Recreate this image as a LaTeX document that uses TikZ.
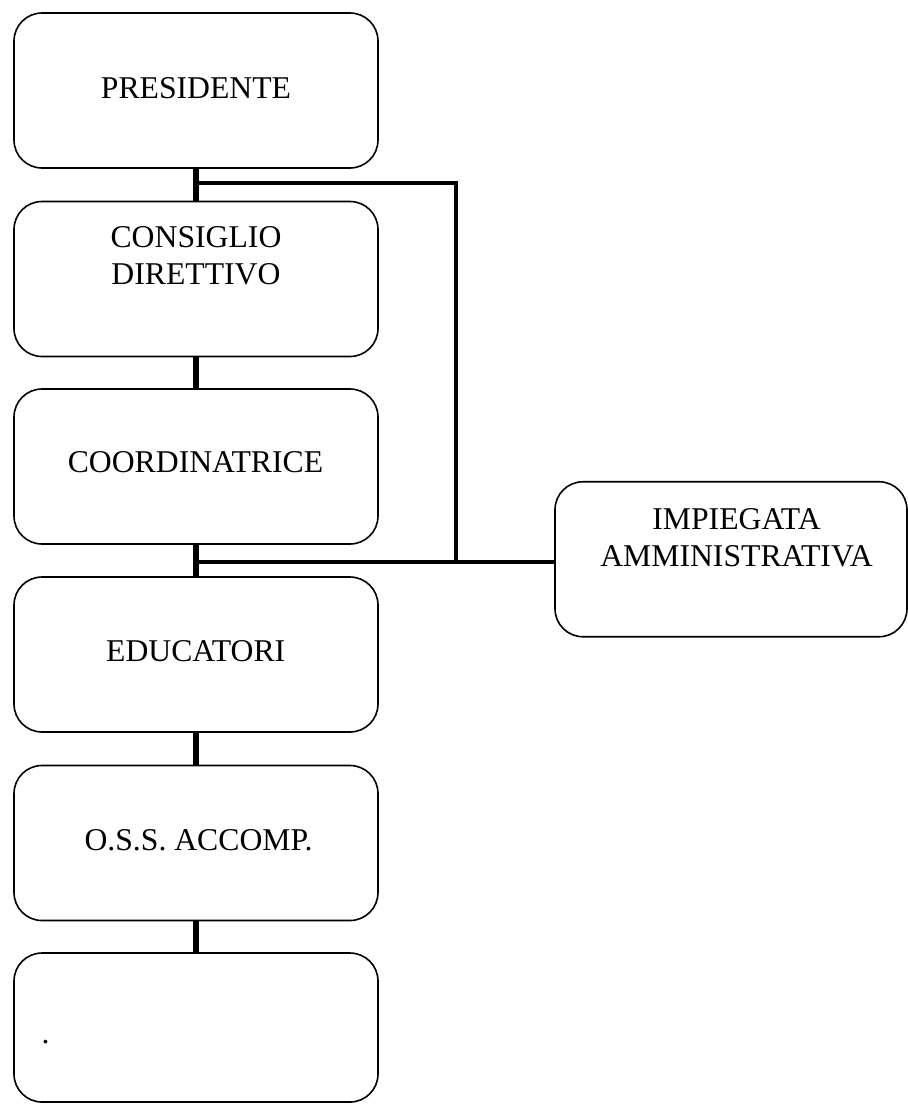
\documentclass[tikz,border=0pt]{standalone}
\usepackage{fontspec}
\setmainfont{Liberation Serif}
\usetikzlibrary{calc}
\tikzset{
  orgbox/.style={draw=black, line width=1.6pt, rounded corners=28pt, fill=white,
    minimum width=364pt, minimum height=155pt, inner sep=0pt, outer sep=0pt},
  sidebox/.style={orgbox, minimum width=352pt},
  lbl/.style={anchor=base, inner sep=0pt, font=\fontsize{31.7}{37}\selectfont},
  mainline/.style={line width=6pt},
  sideline/.style={line width=4pt, line join=miter},
}
\begin{document}
\begin{tikzpicture}[x=1pt,y=-1pt]
\useasboundingbox (0,0) rectangle (908,1104);
% boxes
\node[orgbox] (b1) at (196,90.5) {};
\node[orgbox] (b2) at (196,279) {};
\node[orgbox] (b3) at (196,466.5) {};
\node[orgbox] (b4) at (196,654.5) {};
\node[orgbox] (b5) at (196,843) {};
\node[orgbox, minimum height=149pt] (b6) at (196,1027.5) {};
\node[sidebox] (b7) at (731,559.25) {};
% junctions
\coordinate (j1) at (196,182.5);
\coordinate (c1) at (456,182.5);
\coordinate (j2) at (196,561.5);
\coordinate (c2) at (456,561.5);
% connectors
\draw[sideline] (j1) -- (c1) -- (c2);
\draw[sideline] (j2) -- (j2 -| b7.west);
\draw[mainline] (b1.south) -- (b2.north);
\draw[mainline] (b2.south) -- (b3.north);
\draw[mainline] (b3.south) -- (b4.north);
\draw[mainline] (b4.south) -- (b5.north);
\draw[mainline] (b5.south) -- (b6.north);
% labels
\node[lbl] (t1) at (196,98) {PRESIDENTE};
\node[lbl] (t2) at (196,247) {\begin{tabular}[t]{@{}c@{}}CONSIGLIO\\DIRETTIVO\end{tabular}};
\node[lbl] (t3) at (195.5,472.7) {COORDINATRICE};
\node[lbl] (t4) at (195.7,661) {EDUCATORI};
\node[lbl] (t5) at (198.6,850) {O.S.S. ACCOMP.};
\node[lbl] (t6) at (45.6,1043) {.};
\node[lbl] (t7) at (736.5,529.5) {\begin{tabular}[t]{@{}c@{}}IMPIEGATA\\AMMINISTRATIVA\end{tabular}};
\end{tikzpicture}
\end{document}
